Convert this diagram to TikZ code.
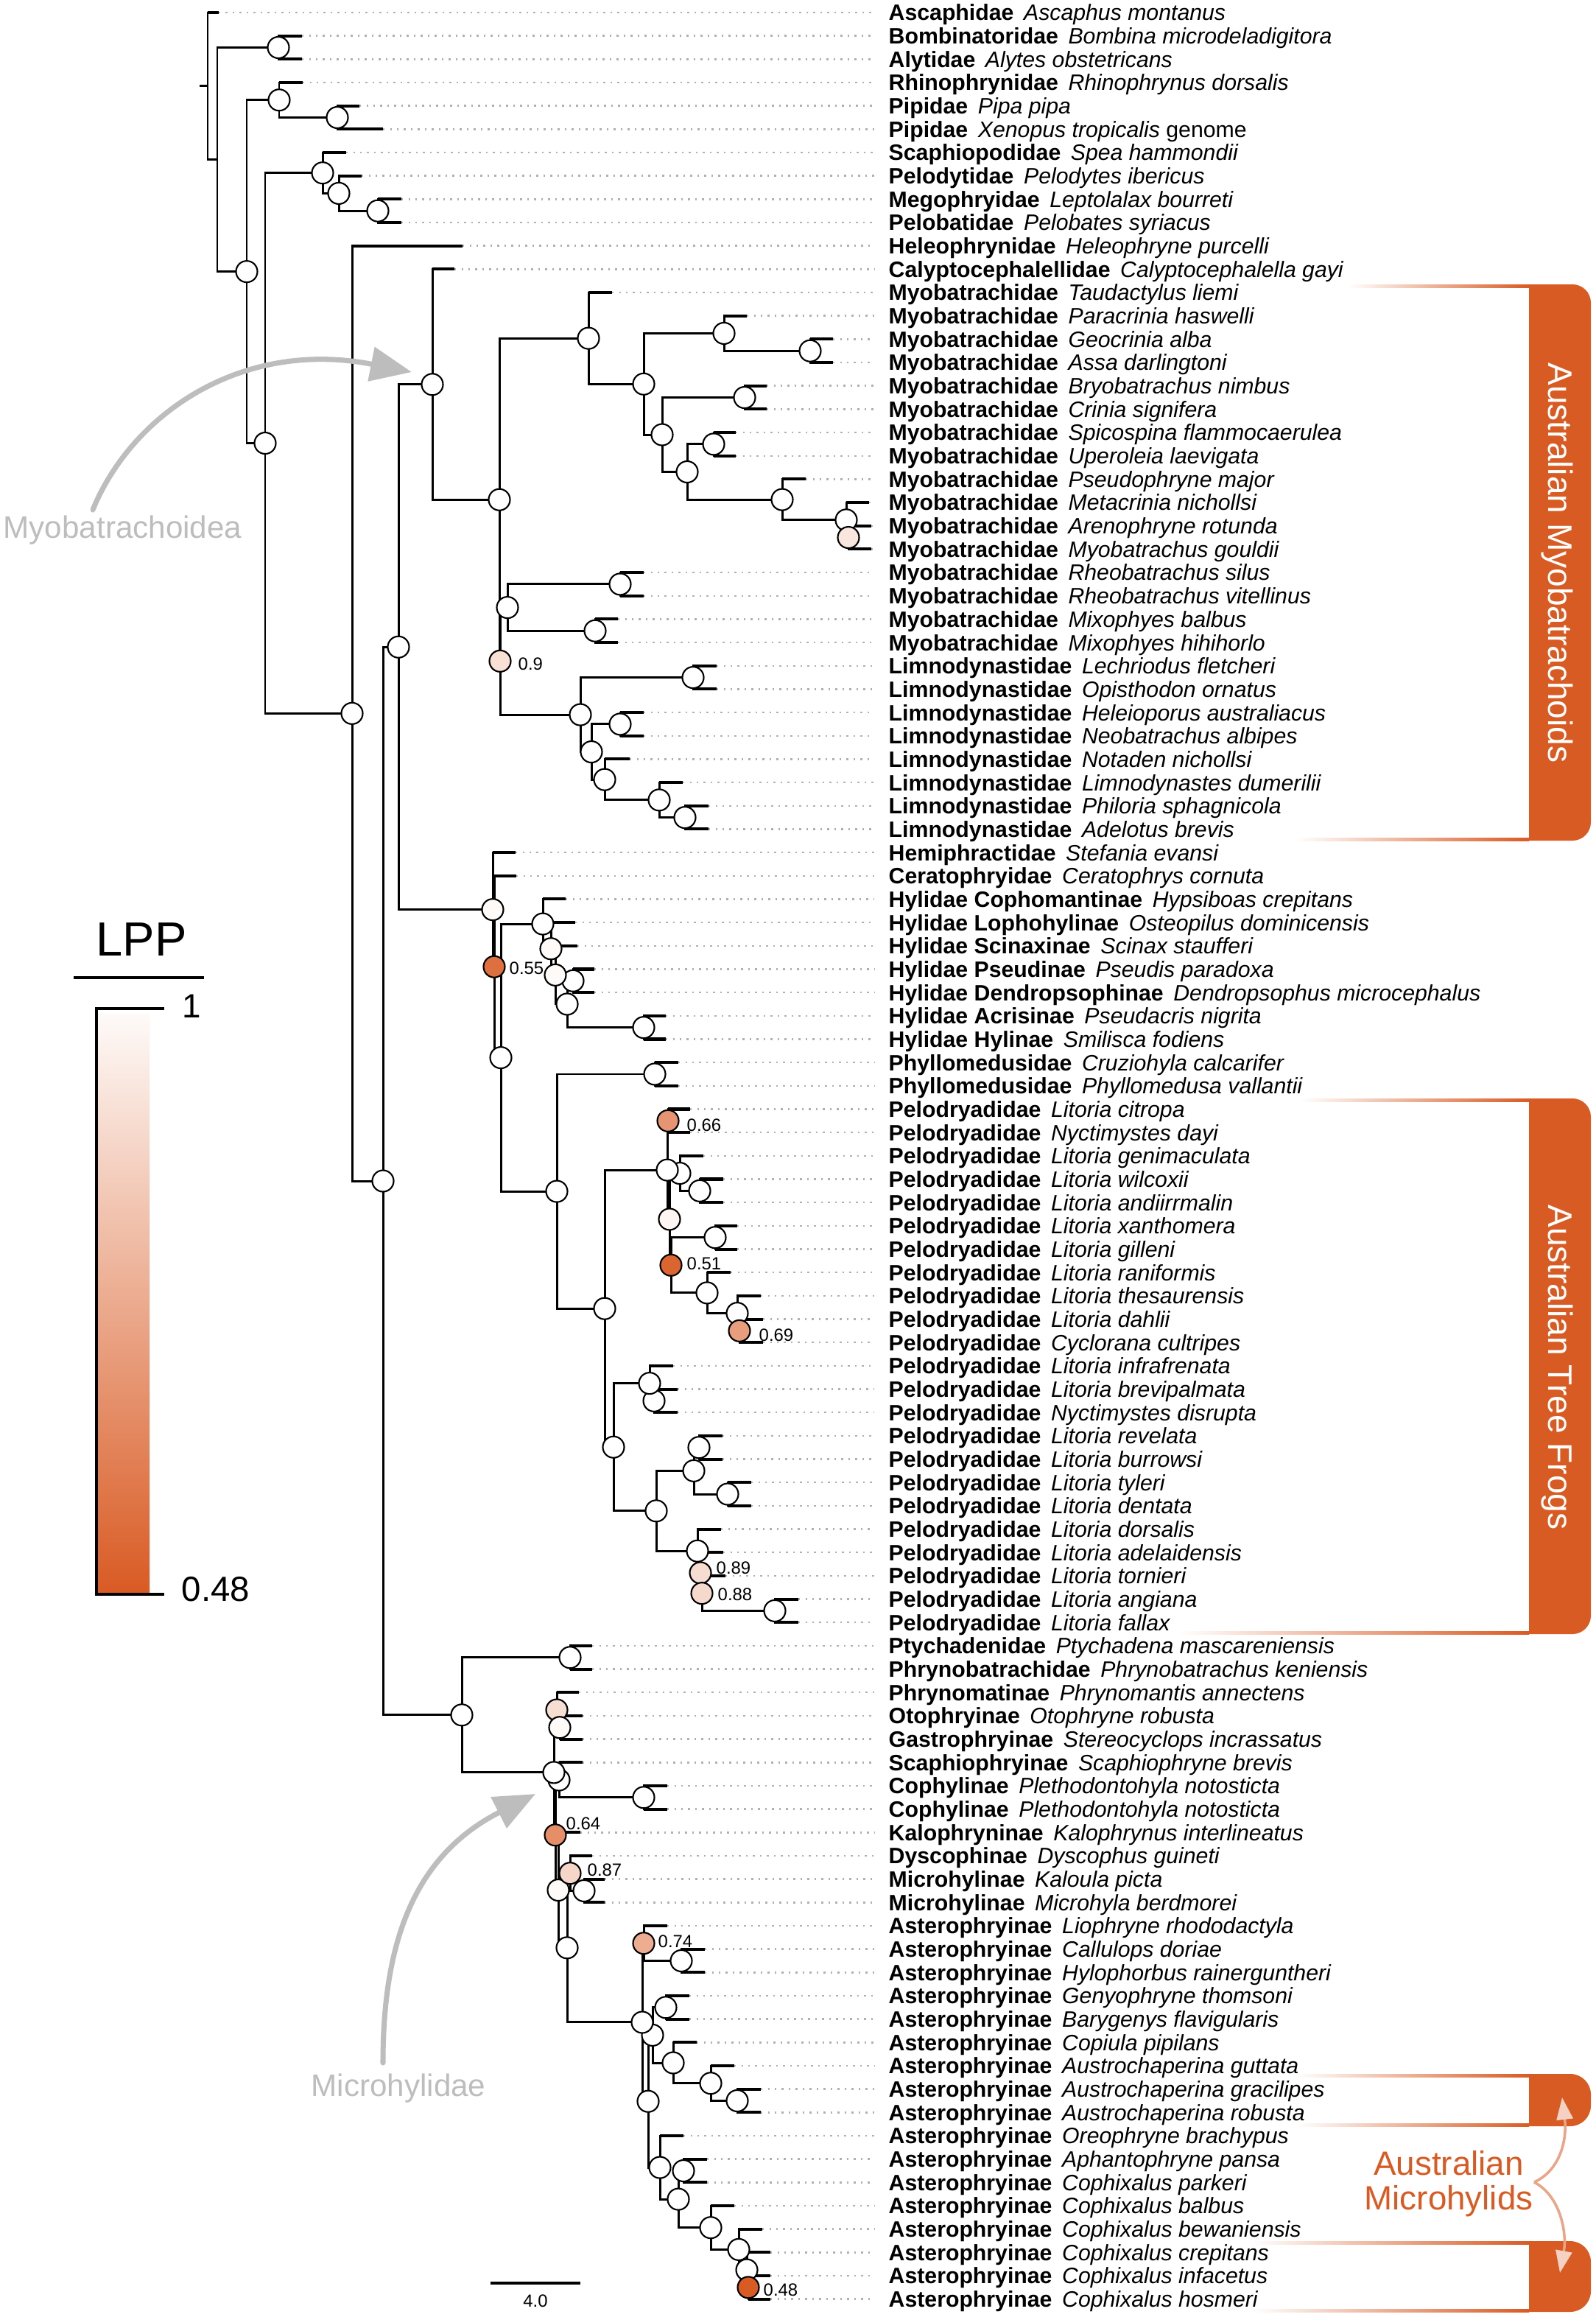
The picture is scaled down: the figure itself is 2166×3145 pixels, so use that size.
\documentclass[tikz,border=0pt]{standalone}
\usepackage{fontspec}
\setmainfont{Liberation Sans}
\usetikzlibrary{calc,arrows.meta}
\definecolor{lppor}{HTML}{D95B24}
\definecolor{annogray}{HTML}{BDBDBD}
\definecolor{leadgray}{HTML}{B0B0B0}

\newcommand\tip[4]{%
  \coordinate (t#1) at (#2,{17+(#1-1)*31.67});%
  \expandafter\gdef\csname istip@t#1\endcsname{}%
  \node[lab] (l#1) at (1187,{17+(#1-1)*31.67}) {\textbf{#3}\hspace{0.45em}\textit{#4}};%
  \draw[leader] (t#1) -- (l#1.west);}
\newcommand\hbr[2]{\ifcsname istip@#2\endcsname\draw[tipbr] (#1 |- #2) -- (#2);\else\draw[br] (#1 |- #2) -- (#2);\fi}
\newcommand\inode[4]{%
  \path let \p1=(#3), \p2=(#4) in ({#2*0.01cm},{0.5*(\y1)+0.5*(\y2)}) coordinate (#1);%
  \draw[vbr] (#1 |- #3) -- (#1 |- #4);%
  \hbr{#1}{#3}\hbr{#1}{#4}}
\newcommand\cn[2][white]{\node[nd,fill=#1] (c#2) at (#2) {};}

\begin{document}
\begin{tikzpicture}[x=0.01cm,y=-0.01cm,
  br/.style={line width=0.85pt},
  tipbr/.style={line width=1.15pt},
  vbr/.style={line width=0.85pt,line cap=rect},
  leader/.style={leadgray,line width=0.7pt,dash pattern=on 0.7pt off 2pt},
  lab/.style={anchor=west,inner xsep=0.19cm,inner ysep=0pt,font=\fontsize{8.6}{10}\selectfont,text height=7.2pt,text depth=1pt},
  nd/.style={circle,draw=black,line width=0.6pt,fill=white,minimum size=0.29cm,inner sep=0pt},
  pp/.style={anchor=west,inner sep=0pt,font=\fontsize{6.8}{8}\selectfont},
  anno/.style={annogray,font=\fontsize{12}{14}\selectfont,inner sep=0pt},
  grayarr/.style={annogray,line width=2pt,line cap=round,-{Triangle[length=0.56cm,width=0.46cm]}},
  mharr/.style={lppor!55,line width=1pt,-{Triangle[length=0.3cm,width=0.22cm,color=lppor!28]}},
  bartext/.style={white,font=\fontsize{13.1}{15}\selectfont,rotate=-90,inner sep=0pt}]

\fill[white] (0,0) rectangle (2166,3145);
\useasboundingbox (0,0) rectangle (2166,3145);

% ---------------- orange bars ----------------
\shade[left color=white,right color=lppor] (1830,386) rectangle (2076,390);
\shade[left color=white,right color=lppor] (1760,1137) rectangle (2076,1141);
\fill[lppor] (2076,386) -- (2135,386) arc[start angle=90,end angle=0,radius=0.25cm] -- (2160,1116) arc[start angle=0,end angle=-90,radius=0.25cm] -- (2076,1141) -- cycle;
\node[bartext] (barmyo) at (2114,764) {Australian Myobatrachoids};

\shade[left color=white,right color=lppor] (1765,1491) rectangle (2076,1495);
\shade[left color=white,right color=lppor] (1600,2214) rectangle (2076,2218);
\fill[lppor] (2076,1491) -- (2135,1491) arc[start angle=90,end angle=0,radius=0.25cm] -- (2160,2193) arc[start angle=0,end angle=-90,radius=0.25cm] -- (2076,2218) -- cycle;
\node[bartext] (bartree) at (2114,1856) {Australian Tree Frogs};

\shade[left color=white,right color=lppor] (1760,2815) rectangle (2076,2819);
\shade[left color=white,right color=lppor] (1760,2882) rectangle (2076,2886);
\fill[lppor] (2076,2815) -- (2132,2815) arc[start angle=90,end angle=0,radius=0.28cm] -- (2160,2858) arc[start angle=0,end angle=-90,radius=0.28cm] -- (2076,2886) -- cycle;
\shade[left color=white,right color=lppor] (1700,3042) rectangle (2076,3046);
\shade[left color=white,right color=lppor] (1700,3134) rectangle (2076,3138);
\fill[lppor] (2076,3042) -- (2132,3042) arc[start angle=90,end angle=0,radius=0.28cm] -- (2160,3110) arc[start angle=0,end angle=-90,radius=0.28cm] -- (2076,3138) -- cycle;
\node[lppor,font=\fontsize{13}{13.4}\selectfont,align=center,inner sep=0pt] (mhtxt) at (1967,2964) {Australian\\Microhylids};
\coordinate (cusp) at (2083,2962);
\coordinate (mtop) at (2121,2847);
\coordinate (mbot) at (2118,3085);
\draw[mharr] (cusp) .. controls (2118,2946) and (2128,2905) .. (mtop);
\draw[mharr] (cusp) .. controls (2118,2980) and (2128,3030) .. (mbot);

% ---------------- tips ----------------
\tip{1}{297}{Ascaphidae}{Ascaphus montanus}
\tip{2}{410}{Bombinatoridae}{Bombina microdeladigitora}
\tip{3}{410}{Alytidae}{Alytes obstetricans}
\tip{4}{411}{Rhinophrynidae}{Rhinophrynus dorsalis}
\tip{5}{488}{Pipidae}{Pipa pipa}
\tip{6}{520}{Pipidae}{Xenopus tropicalis\/ \textup{genome}}
\tip{7}{470}{Scaphiopodidae}{Spea hammondii}
\tip{8}{491}{Pelodytidae}{Pelodytes ibericus}
\tip{9}{545}{Megophryidae}{Leptolalax bourreti}
\tip{10}{545}{Pelobatidae}{Pelobates syriacus}
\tip{11}{628}{Heleophrynidae}{Heleophryne purcelli}
\tip{12}{617}{Calyptocephalellidae}{Calyptocephalella gayi}
\tip{13}{831}{Myobatrachidae}{Taudactylus liemi}
\tip{14}{1014}{Myobatrachidae}{Paracrinia haswelli}
\tip{15}{1131}{Myobatrachidae}{Geocrinia alba}
\tip{16}{1131}{Myobatrachidae}{Assa darlingtoni}
\tip{17}{1041}{Myobatrachidae}{Bryobatrachus nimbus}
\tip{18}{1041}{Myobatrachidae}{Crinia signifera}
\tip{19}{999}{Myobatrachidae}{Spicospina flammocaerulea}
\tip{20}{999}{Myobatrachidae}{Uperoleia laevigata}
\tip{21}{1094}{Myobatrachidae}{Pseudophryne major}
\tip{22}{1180}{Myobatrachidae}{Metacrinia nichollsi}
\tip{23}{1183}{Myobatrachidae}{Arenophryne rotunda}
\tip{24}{1183}{Myobatrachidae}{Myobatrachus gouldii}
\tip{25}{874}{Myobatrachidae}{Rheobatrachus silus}
\tip{26}{874}{Myobatrachidae}{Rheobatrachus vitellinus}
\tip{27}{839}{Myobatrachidae}{Mixophyes balbus}
\tip{28}{839}{Myobatrachidae}{Mixophyes hihihorlo}
\tip{29}{973}{Limnodynastidae}{Lechriodus fletcheri}
\tip{30}{973}{Limnodynastidae}{Opisthodon ornatus}
\tip{31}{874}{Limnodynastidae}{Heleioporus australiacus}
\tip{32}{874}{Limnodynastidae}{Neobatrachus albipes}
\tip{33}{855}{Limnodynastidae}{Notaden nichollsi}
\tip{34}{927}{Limnodynastidae}{Limnodynastes dumerilii}
\tip{35}{962}{Limnodynastidae}{Philoria sphagnicola}
\tip{36}{962}{Limnodynastidae}{Adelotus brevis}
\tip{37}{700}{Hemiphractidae}{Stefania evansi}
\tip{38}{701}{Ceratophryidae}{Ceratophrys cornuta}
\tip{39}{768}{Hylidae Cophomantinae}{Hypsiboas crepitans}
\tip{40}{781}{Hylidae Lophohylinae}{Osteopilus dominicensis}
\tip{41}{784}{Hylidae Scinaxinae}{Scinax staufferi}
\tip{42}{807}{Hylidae Pseudinae}{Pseudis paradoxa}
\tip{43}{807}{Hylidae Dendropsophinae}{Dendropsophus microcephalus}
\tip{44}{904}{Hylidae Acrisinae}{Pseudacris nigrita}
\tip{45}{904}{Hylidae Hylinae}{Smilisca fodiens}
\tip{46}{921}{Phyllomedusidae}{Cruziohyla calcarifer}
\tip{47}{921}{Phyllomedusidae}{Phyllomedusa vallantii}
\tip{48}{937}{Pelodryadidae}{Litoria citropa}
\tip{49}{937}{Pelodryadidae}{Nyctimystes dayi}
\tip{50}{955}{Pelodryadidae}{Litoria genimaculata}
\tip{51}{982}{Pelodryadidae}{Litoria wilcoxii}
\tip{52}{982}{Pelodryadidae}{Litoria andiirrmalin}
\tip{53}{1001}{Pelodryadidae}{Litoria xanthomera}
\tip{54}{1001}{Pelodryadidae}{Litoria gilleni}
\tip{55}{992}{Pelodryadidae}{Litoria raniformis}
\tip{56}{1033}{Pelodryadidae}{Litoria thesaurensis}
\tip{57}{1036}{Pelodryadidae}{Litoria dahlii}
\tip{58}{1036}{Pelodryadidae}{Cyclorana cultripes}
\tip{59}{914}{Pelodryadidae}{Litoria infrafrenata}
\tip{60}{920}{Pelodryadidae}{Litoria brevipalmata}
\tip{61}{920}{Pelodryadidae}{Nyctimystes disrupta}
\tip{62}{981}{Pelodryadidae}{Litoria revelata}
\tip{63}{981}{Pelodryadidae}{Litoria burrowsi}
\tip{64}{1020}{Pelodryadidae}{Litoria tyleri}
\tip{65}{1020}{Pelodryadidae}{Litoria dentata}
\tip{66}{979}{Pelodryadidae}{Litoria dorsalis}
\tip{67}{982}{Pelodryadidae}{Litoria adelaidensis}
\tip{68}{985}{Pelodryadidae}{Litoria tornieri}
\tip{69}{1084}{Pelodryadidae}{Litoria angiana}
\tip{70}{1084}{Pelodryadidae}{Litoria fallax}
\tip{71}{804}{Ptychadenidae}{Ptychadena mascareniensis}
\tip{72}{804}{Phrynobatrachidae}{Phrynobatrachus keniensis}
\tip{73}{786}{Phrynomatinae}{Phrynomantis annectens}
\tip{74}{791}{Otophryinae}{Otophryne robusta}
\tip{75}{791}{Gastrophryinae}{Stereocyclops incrassatus}
\tip{76}{791}{Scaphiophryinae}{Scaphiophryne brevis}
\tip{77}{906}{Cophylinae}{Plethodontohyla notosticta}
\tip{78}{906}{Cophylinae}{Plethodontohyla notosticta}
\tip{79}{788}{Kalophryninae}{Kalophrynus interlineatus}
\tip{80}{804}{Dyscophinae}{Dyscophus guineti}
\tip{81}{821}{Microhylinae}{Kaloula picta}
\tip{82}{821}{Microhylinae}{Microhyla berdmorei}
\tip{83}{906}{Asterophryinae}{Liophryne rhododactyla}
\tip{84}{957}{Asterophryinae}{Callulops doriae}
\tip{85}{957}{Asterophryinae}{Hylophorbus rainerguntheri}
\tip{86}{936}{Asterophryinae}{Genyophryne thomsoni}
\tip{87}{936}{Asterophryinae}{Barygenys flavigularis}
\tip{88}{946}{Asterophryinae}{Copiula pipilans}
\tip{89}{997}{Asterophryinae}{Austrochaperina guttata}
\tip{90}{1033}{Asterophryinae}{Austrochaperina gracilipes}
\tip{91}{1033}{Asterophryinae}{Austrochaperina robusta}
\tip{92}{928}{Asterophryinae}{Oreophryne brachypus}
\tip{93}{960}{Asterophryinae}{Aphantophryne pansa}
\tip{94}{960}{Asterophryinae}{Cophixalus parkeri}
\tip{95}{997}{Asterophryinae}{Cophixalus balbus}
\tip{96}{1035}{Asterophryinae}{Cophixalus bewaniensis}
\tip{97}{1046}{Asterophryinae}{Cophixalus crepitans}
\tip{98}{1046}{Asterophryinae}{Cophixalus infacetus}
\tip{99}{1046}{Asterophryinae}{Cophixalus hosmeri}

% ---------------- internal nodes ----------------
\inode{A1}{378}{t2}{t3}
\inode{D2}{458}{t5}{t6}
\inode{D}{379}{t4}{D2}
\inode{H}{513}{t9}{t10}
\inode{G}{460}{t8}{H}
\inode{F}{438}{t7}{G}
\inode{X2}{1100}{t15}{t16}
\inode{X}{983}{t14}{X2}
\inode{Z}{1011}{t17}{t18}
\inode{AB}{969}{t19}{t20}
\inode{AE}{1152}{t23}{t24}
\inode{AD}{1149}{t22}{AE}
\inode{AC}{1062}{t21}{AD}
\inode{AA}{933}{AB}{AC}
\inode{Y}{899}{Z}{AA}
\inode{O2}{874}{X}{Y}
\inode{O}{799}{t13}{O2}
\inode{Rh}{842}{t25}{t26}
\inode{Mx}{808}{t27}{t28}
\inode{P}{689}{Rh}{Mx}
\inode{LO}{941}{t29}{t30}
\inode{HN}{842}{t31}{t32}
\inode{W}{930}{t35}{t36}
\inode{V}{895}{t34}{W}
\inode{U}{821}{t33}{V}
\inode{S}{803}{HN}{U}
\inode{R}{788}{LO}{S}
\inode{Q}{679}{P}{R}
\inode{N}{678}{O}{Q}
\inode{M}{587}{t12}{N}
\inode{HyD}{778}{t42}{t43}
\inode{HyE}{874}{t44}{t45}
\inode{HyF}{770}{HyD}{HyE}
\inode{HyC}{754}{t41}{HyF}
\inode{HyB}{748}{t40}{HyC}
\inode{HyA}{737}{t39}{HyB}
\inode{Ph}{889}{t46}{t47}
\inode{Pa}{907}{t48}{t49}
\inode{PbB}{950}{t51}{t52}
\inode{Pb}{923}{t50}{PbB}
\inode{Pc}{971}{t53}{t54}
\inode{Pf}{1004}{t57}{t58}
\inode{Pe}{1001}{t56}{Pf}
\inode{Pd}{960}{t55}{Pe}
\inode{Pfo}{911}{Pc}{Pd}
\inode{Ppale}{909}{Pb}{Pfo}
\inode{PelA}{906}{Pa}{Ppale}
\inode{PgB}{888}{t60}{t61}
\inode{Pg}{882}{t59}{PgB}
\inode{PhA}{949}{t62}{t63}
\inode{PhB}{988}{t64}{t65}
\inode{PhC}{942}{PhA}{PhB}
\inode{Pk}{1052}{t69}{t70}
\inode{Pee}{953}{t68}{Pk}
\inode{Pnn}{951}{t67}{Pee}
\inode{PelD}{947}{t66}{Pnn}
\inode{PelC}{891}{PhC}{PelD}
\inode{PelB}{833}{Pg}{PelC}
\inode{Pel}{821}{PelA}{PelB}
\inode{PP}{756}{Ph}{Pel}
\inode{KD}{680}{HyA}{PP}
\inode{KC}{671}{t38}{KD}
\inode{KB}{669}{t37}{KC}
\inode{K}{541}{M}{KB}
\inode{Pt}{774}{t71}{t72}
\inode{Mb}{760}{t74}{t75}
\inode{Ma}{756}{t73}{Mb}
\inode{Mc}{874}{t77}{t78}
\inode{Md}{759}{t76}{Mc}
\inode{Mh}{793}{t81}{t82}
\inode{Mf}{774}{t80}{Mh}
\inode{AjB}{925}{t84}{t85}
\inode{Aj}{874}{t83}{AjB}
\inode{Am}{904}{t86}{t87}
\inode{Aq}{1001}{t90}{t91}
\inode{Ap}{965}{t89}{Aq}
\inode{Ao}{914}{t88}{Ap}
\inode{An}{886}{Am}{Ao}
\inode{At}{928}{t93}{t94}
\inode{Ay}{1016}{t98}{t99}
\inode{Ax}{1014}{t97}{Ay}
\inode{Aw}{1003}{t96}{Ax}
\inode{Av}{965}{t95}{Aw}
\inode{Au}{921}{At}{Av}
\inode{As}{896}{t92}{Au}
\inode{Ar}{880}{An}{As}
\inode{Al}{872}{Aj}{Ar}
\inode{Mi}{770}{Mf}{Al}
\inode{Mg}{758}{t79}{Mi}
\inode{Me}{754}{Md}{Mg}
\inode{MH}{752}{Ma}{Me}
\inode{L}{627}{Pt}{MH}
\inode{J}{520}{K}{L}
\inode{I}{478}{t11}{J}
\inode{E}{360}{F}{I}
\inode{C}{335}{D}{E}
\inode{B}{295}{A1}{C}
\inode{root}{282}{t1}{B}
\coordinate (rootstub) at (271,117);
\draw[br] (root) -- (root -| rootstub);

% ---------------- node circles ----------------
\foreach \n in {A1,D2,D,H,G,F,X2,X,Z,AB,AD,AC,AA,Y,O2,O,Rh,Mx,P,LO,HN,W,V,U,S,R,N,M,
  HyD,HyE,HyF,HyA,Ph,PbB,Pb,Pc,Pe,Pd,PelA,PgB,Pg,PhA,PhB,PhC,Pk,PelD,PelC,PelB,Pel,PP,KD,K,
  Pt,Mc,Md,Mh,AjB,Am,Aq,Ap,Ao,An,At,Ax,Aw,Av,Au,As,Ar,Al,Mi,MH,L,J,I,E,C}
  {\cn{\n}}
\cn[lppor!15]{AE}
\cn[lppor!19]{Q}
\cn[lppor!3]{HyB}
\cn[lppor!3]{HyC}
\cn[lppor!3]{KB}
\cn[lppor!87]{KC}
\cn[lppor!65]{Pa}
\cn[lppor!6]{Ppale}
\cn[lppor!94]{Pfo}
\cn[lppor!60]{Pf}
\cn[lppor!21]{Pnn}
\cn[lppor!23]{Pee}
\cn[lppor!20]{Ma}
\cn[lppor!3]{Mb}
\cn[lppor!3]{Mg}
\cn[lppor!69]{Me}
\cn[lppor!25]{Mf}
\cn[lppor!50]{Aj}
\cn[lppor]{Ay}

% ---------------- LPP values ----------------
\node[pp] (vQ) at (703,901) {0.9};
\node[pp] (vKC) at (691,1314) {0.55};
\node[pp] (vPa) at (932,1527) {0.66};
\node[pp] (vPfo) at (932,1715) {0.51};
\node[pp] (vPf) at (1030,1812) {0.69};
\node[pp] (vPnn) at (972,2128) {0.89};
\node[pp] (vPee) at (974,2164) {0.88};
\node[pp] (vMe) at (768,2475) {0.64};
\node[pp] (vMf) at (797,2538) {0.87};
\node[pp] (vAj) at (893,2635) {0.74};
\node[pp] (vAy) at (1036,3108) {0.48};

% ---------------- scale bar ----------------
\coordinate (sbl) at (666,3099);
\coordinate (sbr) at (788,3099);
\draw[line width=1pt] (sbl) -- (sbr);
\node[font=\fontsize{6.8}{8}\selectfont,inner sep=0pt] (sblab) at (727,3123) {4.0};

% ---------------- legend ----------------
\node[font=\fontsize{18.5}{20}\selectfont,inner sep=0pt] (lpptitle) at (192,1275) {LPP};
\draw[line width=1.15pt] (100,1327) -- (277,1327);
\shade[top color=lppor!3,bottom color=lppor] (133,1376) rectangle (203,2161);
\draw[line width=1.15pt] (223,1369) -- (131,1369) -- (131,2164) -- (223,2164);
\node[font=\fontsize{13}{15}\selectfont,inner sep=0pt] (leg1) at (260,1366) {1};
\node[font=\fontsize{13.5}{15}\selectfont,inner sep=0pt] (leg048) at (293,2157) {0.48};

% ---------------- gray annotations ----------------
\node[anno,anchor=base west] (myotxt) at (4,730) {Myobatrachoidea};
\coordinate (myoS) at (126,692);
\coordinate (myoE) at (559,505);
\draw[grayarr] (myoS) .. controls (180,560) and (330,460) .. (myoE);
\node[anno,anchor=base] (mictxt) at (541,2845) {Microhylidae};
\coordinate (micS) at (520,2800);
\coordinate (micE) at (727,2435);
\draw[grayarr] (micS) .. controls (520,2640) and (560,2520) .. (micE);

\end{tikzpicture}
\end{document}
